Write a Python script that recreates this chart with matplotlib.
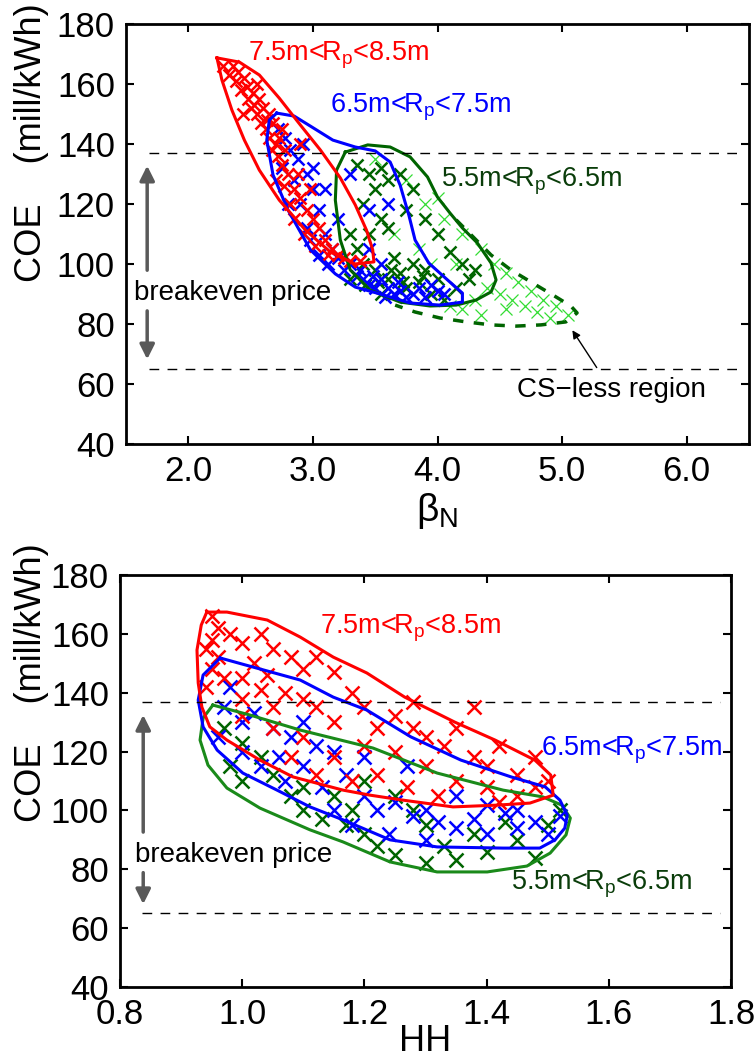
import numpy as np
import matplotlib
matplotlib.use("Agg")
import matplotlib.pyplot as plt

plt.rcParams['font.family'] = ['Liberation Sans', 'DejaVu Sans']
plt.rcParams['mathtext.fontset'] = 'custom'
plt.rcParams['mathtext.rm'] = 'Liberation Sans'
plt.rcParams['mathtext.it'] = 'Liberation Sans:italic'
plt.rcParams['mathtext.default'] = 'regular'

# ---------------- data: top panel (beta_N) ----------------
top_red_pts = [(2.28,166),(2.33,163),(2.38,161),(2.42,158),(2.45,162),(2.48,155),(2.50,152),(2.52,157),
               (2.55,150),(2.58,147),(2.60,152),(2.62,145),(2.65,142),(2.70,140),(2.68,147),(2.72,136),
               (2.75,133),(2.80,130),(2.78,138),(2.85,125),(2.90,122),(2.88,130),(2.95,118),(3.00,115),
               (3.05,112),(2.98,125),(3.10,108),(3.15,105),(3.20,103),(3.25,102),(3.30,101),(3.38,101),
               (2.65,150),(2.55,160),(2.70,128),(2.85,115),(2.75,145),(2.90,140),(2.36,166),(2.44,150),
               (2.40,164),(2.47,159),(2.53,153),(2.57,155),(2.63,148),(2.67,138),(2.73,142),(2.77,126),
               (2.82,120),(2.93,110),(3.02,106),(3.12,103)]
top_blue_pts = [(2.72,145),(2.78,142),(2.82,138),(2.88,135),(2.92,140),(2.75,132),(2.85,128),(2.95,130),
                (3.00,125),(2.90,120),(3.05,118),(2.95,112),(3.10,110),(3.15,105),(3.20,102),(3.25,98),
                (3.30,100),(3.35,96),(3.40,95),(3.45,93),(3.50,92),(3.55,95),(3.60,92),(3.65,90),
                (3.70,91),(3.75,89),(3.80,90),(3.85,92),(3.90,89),(4.00,91),(4.05,90),(3.55,100),
                (3.45,105),(3.20,115),(3.10,125),(3.00,132),(2.80,120),(3.60,120),(3.45,118),(3.30,130),
                (2.98,108),(3.05,103),(3.12,100),(3.38,98),(3.48,96),(3.58,89),(3.68,94),(3.95,93)]
top_green_pts = [(3.35,133),(3.45,130),(3.55,132),(3.60,128),(3.50,125),(3.70,130),(3.40,120),(3.55,115),
                 (3.45,110),(3.60,112),(3.75,118),(3.80,125),(3.90,115),(4.00,110),(4.10,104),(4.20,100),
                 (4.25,95),(4.30,98),(4.15,92),(4.00,95),(3.90,98),(3.80,100),(3.70,97),(3.60,95),
                 (3.50,98),(3.40,100),(3.35,105),(3.65,102),(3.85,94),(4.05,88),(3.95,90),(3.75,92),
                 (3.55,90),(3.30,110),(3.30,95),(3.42,93),(3.52,94),(3.63,98),(3.72,94),(3.88,96)]
top_lime_pts = [(3.50,135),(3.75,128),(3.90,120),(4.05,115),(4.20,110),(4.35,105),(4.45,100),(4.55,97),
                (4.65,94),(4.75,91),(4.85,88),(4.95,86),(5.05,83),(4.50,90),(4.60,88),(4.70,86),
                (4.80,84),(4.90,82),(4.40,92),(4.30,88),(4.20,85),(4.10,86),(3.95,100),(3.85,105),
                (3.65,110),(3.60,120),(4.00,122),(4.15,100),(4.55,85),(4.35,83)]
top_red_contour = [(2.23,168.7),(2.41,167.3),(2.57,163),(2.73,155.3),(2.90,146.3),(3.06,138),(3.22,128.7),
                   (3.34,119.7),(3.43,111.3),(3.48,104.7),(3.49,100.7),(3.34,100),(3.14,104),(2.94,111.3),
                   (2.73,121.3),(2.57,131.3),(2.45,141.3),(2.35,151.3),(2.27,161.3)]
top_blue_contour = [(2.71,150.3),(2.85,149.3),(2.99,145.7),(3.16,141.3),(3.34,139),(3.50,137.7),(3.62,134),
                    (3.70,126.3),(3.77,116.3),(3.82,108),(3.93,100.3),(4.08,94.7),(4.20,90.3),(4.20,87.3),
                    (4.02,86.3),(3.78,87),(3.54,90),(3.34,92.3),(3.18,96.7),(2.98,104.7),(2.80,118),
                    (2.68,129.7),(2.63,141.3),(2.65,148)]
top_green_contour = [(3.26,137.3),(3.44,139.7),(3.62,139),(3.78,135.7),(3.92,129),(4.00,122.3),(4.10,117),
                     (4.20,112),(4.32,107),(4.43,100.3),(4.47,94.7),(4.43,90.7),(4.31,88),(4.15,86.3),
                     (3.94,86),(3.70,87.3),(3.46,91.3),(3.30,98),(3.22,108),(3.18,121.3),(3.19,131.3)]
top_csless_contour = [(4.15,114.7),(4.27,109.7),(4.43,103),(4.59,98),(4.75,94),(4.94,89.3),(5.07,86),
                      (5.12,83.7),(5.03,80.7),(4.83,79.7),(4.63,79.3),(4.43,79.7),(4.23,80.7),(4.02,82),
                      (3.82,84),(3.66,86.3)]

# ---------------- data: bottom panel (HH) ----------------
bot_red_pts = [(0.95,166),(0.96,162),(0.95,158),(0.94,155),(0.96,152),(0.95,148),(0.97,145),(0.94,142),
               (0.98,160),(1.00,157),(1.03,160),(1.05,155),(1.02,150),(1.00,145),(1.04,146),(1.08,152),
               (1.10,148),(1.12,152),(1.15,147),(1.07,140),(1.10,138),(1.05,135),(1.12,135),(1.15,130),
               (1.18,140),(1.20,135),(1.22,128),(1.25,132),(1.28,128),(1.30,125),(1.33,122),(1.35,128),
               (1.38,118),(1.40,115),(1.42,122),(1.45,112),(1.48,108),(1.50,110),(1.30,115),(1.25,120),
               (1.20,122),(1.15,118),(1.10,125),(1.05,128),(1.00,132),(1.35,110),(1.40,108),(1.45,105),
               (1.22,112),(1.27,108),(1.18,110),(1.32,105),(1.42,103),(1.00,138),(1.03,141),(1.38,135),
               (1.48,118),(1.08,118),(1.12,112),(1.28,137)]
bot_blue_pts = [(0.98,142),(0.97,135),(1.00,130),(1.02,133),(1.05,128),(1.08,125),(1.10,130),(1.12,122),
                (1.15,120),(1.00,120),(1.03,115),(1.07,110),(1.10,115),(1.13,108),(1.17,112),(1.20,105),
                (1.22,100),(1.25,103),(1.28,98),(1.30,100),(1.32,96),(1.35,94),(1.38,97),(1.40,92),
                (1.43,99),(1.45,94),(1.48,96),(1.50,92),(1.52,98),(1.18,95),(1.15,100),(1.24,92),
                (1.30,90),(1.40,102),(1.35,105),(1.27,115),(1.20,118),(1.45,100),(0.96,125),(1.06,118)]
bot_green_pts = [(0.97,128),(1.00,123),(1.03,118),(1.05,112),(1.08,105),(1.10,100),(1.13,97),(1.17,95),
                 (1.20,92),(1.22,88),(1.25,85),(1.28,100),(1.30,95),(1.33,88),(1.35,83),(1.38,92),
                 (1.40,86),(1.43,96),(1.45,90),(1.48,84),(1.50,95),(1.52,100),(1.15,105),(1.20,110),
                 (1.25,105),(1.18,100),(1.10,108),(1.00,110),(0.98,115),(1.30,82)]
bot_red_contour = [(0.942,167.4),(0.975,167.4),(1.041,164.7),(1.095,158.9),(1.149,152.1),(1.204,146.7),
                   (1.266,138.5),(1.348,130.0),(1.414,123.9),(1.479,117.1),(1.505,112.0),(1.509,105.2),
                   (1.471,102.5),(1.417,101.8),(1.345,101.2),(1.263,103.5),(1.209,105.2),(1.165,106.9),
                   (1.083,111.4),(1.029,117.1),(0.975,123.9),(0.947,128.4),(0.934,135.1),(0.928,143.3),
                   (0.926,154.5),(0.933,163.0)]
bot_blue_contour = [(0.964,151.8),(1.018,148.7),(1.095,144.3),(1.149,138.5),(1.204,134.1),(1.276,125.0),
                    (1.358,117.1),(1.440,111.4),(1.496,108.0),(1.520,103.5),(1.532,98.4),(1.528,94.0),
                    (1.512,90.0),(1.487,87.2),(1.427,87.2),(1.319,87.6),(1.242,90.0),(1.165,96.8),
                    (1.111,101.2),(1.057,106.9),(1.001,112.7),(0.959,120.5),(0.936,128.4),(0.928,137.5),
                    (0.936,146.0)]
bot_green_contour = [(0.952,135.8),(1.013,132.4),(1.095,127.3),(1.214,121.2),(1.319,112.7),(1.427,106.9),
                     (1.492,104.6),(1.523,101.8),(1.537,97.4),(1.530,91.7),(1.504,85.5),(1.466,81.1),
                     (1.401,79.1),(1.319,79.1),(1.242,82.5),(1.165,89.3),(1.111,93.4),(1.029,100.8),
                     (0.975,107.6),(0.944,115.4),(0.931,123.9),(0.936,131.4)]

breakeven = [65, 137]
yticks = [40, 60, 80, 100, 120, 140, 160, 180]
top_xticks = [2.0, 3.0, 4.0, 5.0, 6.0]
top_xticklabels = ['2.0', '3.0', '4.0', '5.0', '6.0']
bot_xticks = [0.8, 1.0, 1.2, 1.4, 1.6, 1.8]
bot_xticklabels = ['0.8', '1.0', '1.2', '1.4', '1.6', '1.8']

RED = '#ff0000'
BLUE = '#0000ff'
DGREEN = '#006400'
GREEN = '#1a8a1a'
LIME = '#33dd33'

fig = plt.figure(figsize=(7.56, 10.61), dpi=100)
ax1 = fig.add_axes([126/756, 1-444/1061, 623/756, 420/1061])
ax2 = fig.add_axes([120/756, 1-987/1061, 611/756, 412/1061])


def xy(pts):
    a = np.array(pts, dtype=float)
    return a[:, 0], a[:, 1]


def closed(pts):
    a = np.array(pts + [pts[0]], dtype=float)
    return a[:, 0], a[:, 1]


def style_axes(ax, xlim, xticks, xlabels):
    ax.set_xlim(*xlim)
    ax.set_ylim(40, 180)
    ax.set_xticks(xticks)
    ax.set_xticklabels(xlabels)
    ax.set_yticks(yticks)
    ax.tick_params(direction='in', length=6, width=1.5, labelsize=25,
                   top=True, right=True, pad=8)
    for s in ax.spines.values():
        s.set_linewidth(2)


# ---- top panel ----
for pts, c, ms, mew in [(top_lime_pts, LIME, 8, 0.9), (top_green_pts, DGREEN, 8, 1.8),
                        (top_blue_pts, BLUE, 8, 1.8), (top_red_pts, RED, 8, 1.8)]:
    x, y = xy(pts)
    ax1.plot(x, y, 'x', color=c, ms=ms, mew=mew, ls='none')

x, y = xy(top_csless_contour)
ax1.plot(x, y, color=DGREEN, lw=2.5, ls=(0, (3, 3)))
for pts, c in [(top_green_contour, DGREEN), (top_blue_contour, BLUE), (top_red_contour, RED)]:
    x, y = closed(pts)
    ax1.plot(x, y, color=c, lw=2.2)

for yv in breakeven:
    ax1.plot([1.685, 6.43], [yv, yv], color='k', lw=1, ls=(0, (7, 6)))

style_axes(ax1, (1.5, 6.5), top_xticks, top_xticklabels)
ax1.set_xlabel(r'$\beta_N$', fontsize=28, labelpad=2)

ax1.text(2.476, 169.7, r'7.5m<R$_p$<8.5m', color=RED, fontsize=19.5, va='center', ha='left')
ax1.text(3.137, 152.3, r'6.5m<R$_p$<7.5m', color=BLUE, fontsize=19.5, va='center', ha='left')
ax1.text(4.03, 127.7, r'5.5m<R$_p$<6.5m', color='#0a3d0a', fontsize=19.5, va='center', ha='left')
ax1.text(4.64, 58, 'CS\u2212less region', color='k', fontsize=20, va='center', ha='left')
ax1.annotate('', xy=(5.07, 78.7), xytext=(5.29, 64.7),
             arrowprops=dict(arrowstyle='-|>', color='k', lw=1, mutation_scale=12))

ax1.text(1.565, 90.3, 'breakeven price', fontsize=20, va='center', ha='left')
ax1.annotate('', xy=(1.67, 133.7), xytext=(1.67, 97),
             arrowprops=dict(arrowstyle='-|>', color='0.35', lw=2.5, mutation_scale=22))
ax1.annotate('', xy=(1.67, 67.3), xytext=(1.67, 85.3),
             arrowprops=dict(arrowstyle='-|>', color='0.35', lw=2.5, mutation_scale=22))

# ---- bottom panel ----
for pts, c in [(bot_green_pts, DGREEN), (bot_blue_pts, BLUE), (bot_red_pts, RED)]:
    x, y = xy(pts)
    ax2.plot(x, y, 'x', color=c, ms=10, mew=1.8, ls='none')

for pts, c in [(bot_green_contour, GREEN), (bot_blue_contour, BLUE), (bot_red_contour, RED)]:
    x, y = closed(pts)
    ax2.plot(x, y, color=c, lw=2.2)

for yv in breakeven:
    ax2.plot([0.836, 1.782], [yv, yv], color='k', lw=1, ls=(0, (7, 6)))

style_axes(ax2, (0.8, 1.8), bot_xticks, bot_xticklabels)
ax2.set_xlabel('HH', fontsize=26, labelpad=-5)

ax2.text(1.127, 162, r'7.5m<R$_p$<8.5m', color=RED, fontsize=19.5, va='center', ha='left')
ax2.text(1.489, 120.5, r'6.5m<R$_p$<7.5m', color=BLUE, fontsize=19.5, va='center', ha='left')
ax2.text(1.44, 75, r'5.5m<R$_p$<6.5m', color='#0a3d0a', fontsize=19.5, va='center', ha='left')

ax2.text(0.825, 84.9, 'breakeven price', fontsize=20, va='center', ha='left')
ax2.annotate('', xy=(0.838, 133.4), xytext=(0.838, 91.7),
             arrowprops=dict(arrowstyle='-|>', color='0.35', lw=2.5, mutation_scale=22))
ax2.annotate('', xy=(0.838, 67.2), xytext=(0.838, 79.8),
             arrowprops=dict(arrowstyle='-|>', color='0.35', lw=2.5, mutation_scale=22))

# y labels
fig.text(32/756, 1-143/1061, 'COE    (mill/kWh)', rotation=90, fontsize=26, ha='center', va='center')
fig.text(32/756, 1-683/1061, 'COE    (mill/kWh)', rotation=90, fontsize=26, ha='center', va='center')

fig.savefig('out.png', dpi=100)
